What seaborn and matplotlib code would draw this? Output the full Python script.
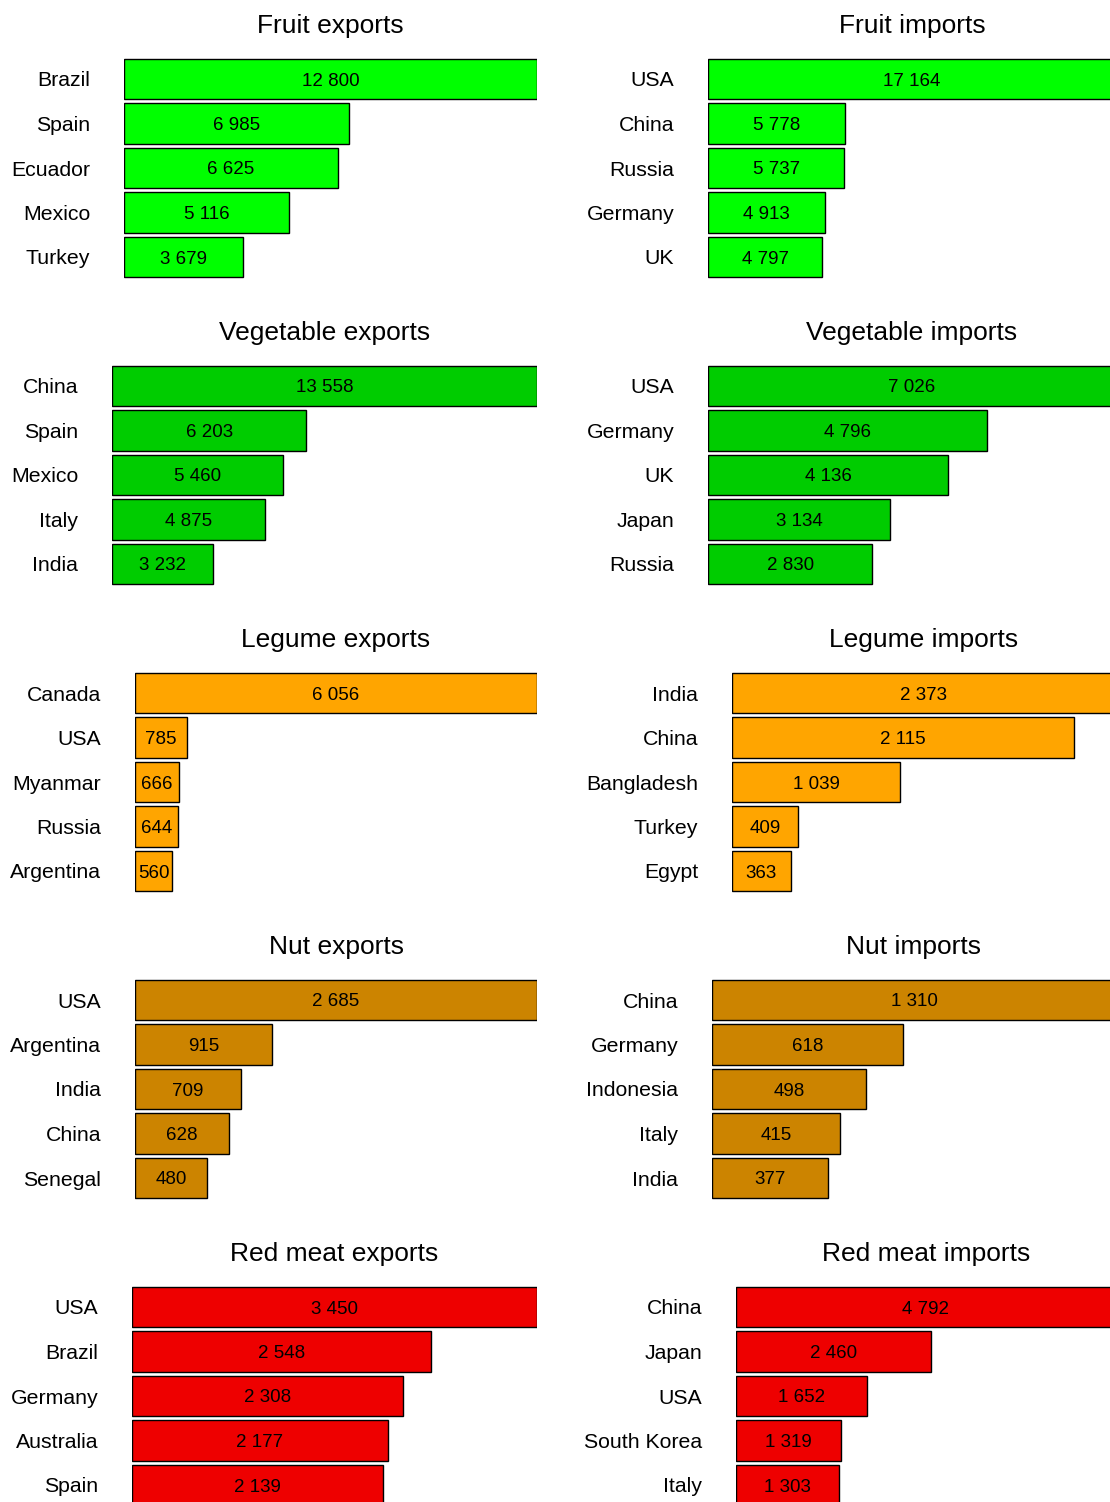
import matplotlib
matplotlib.use("Agg")
import matplotlib.pyplot as plt
import seaborn as sns
import pandas as pd

sns.set_style("white")
plt.rcParams['font.family'] = ['Liberation Sans', 'DejaVu Sans']
plt.rcParams['text.color'] = 'black'
plt.rcParams['axes.titlecolor'] = 'black'

fruit_exp_countries = ["Brazil", "Spain", "Ecuador", "Mexico", "Turkey"]
fruit_exp_values = [12800, 6985, 6625, 5116, 3679]
fruit_imp_countries = ["USA", "China", "Russia", "Germany", "UK"]
fruit_imp_values = [17164, 5778, 5737, 4913, 4797]

veg_exp_countries = ["China", "Spain", "Mexico", "Italy", "India"]
veg_exp_values = [13558, 6203, 5460, 4875, 3232]
veg_imp_countries = ["USA", "Germany", "UK", "Japan", "Russia"]
veg_imp_values = [7026, 4796, 4136, 3134, 2830]

leg_exp_countries = ["Canada", "USA", "Myanmar", "Russia", "Argentina"]
leg_exp_values = [6056, 785, 666, 644, 560]
leg_imp_countries = ["India", "China", "Bangladesh", "Turkey", "Egypt"]
leg_imp_values = [2373, 2115, 1039, 409, 363]

nut_exp_countries = ["USA", "Argentina", "India", "China", "Senegal"]
nut_exp_values = [2685, 915, 709, 628, 480]
nut_imp_countries = ["China", "Germany", "Indonesia", "Italy", "India"]
nut_imp_values = [1310, 618, 498, 415, 377]

meat_exp_countries = ["USA", "Brazil", "Germany", "Australia", "Spain"]
meat_exp_values = [3450, 2548, 2308, 2177, 2139]
meat_imp_countries = ["China", "Japan", "USA", "South Korea", "Italy"]
meat_imp_values = [4792, 2460, 1652, 1319, 1303]

titles = [
    ("Fruit exports", "Fruit imports"),
    ("Vegetable exports", "Vegetable imports"),
    ("Legume exports", "Legume imports"),
    ("Nut exports", "Nut imports"),
    ("Red meat exports", "Red meat imports"),
]
data = [
    ((fruit_exp_countries, fruit_exp_values), (fruit_imp_countries, fruit_imp_values)),
    ((veg_exp_countries, veg_exp_values), (veg_imp_countries, veg_imp_values)),
    ((leg_exp_countries, leg_exp_values), (leg_imp_countries, leg_imp_values)),
    ((nut_exp_countries, nut_exp_values), (nut_imp_countries, nut_imp_values)),
    ((meat_exp_countries, meat_exp_values), (meat_imp_countries, meat_imp_values)),
]
colors = ["#00FF00", "#00CC00", "#FFA500", "#CC8400", "#EE0000"]

# axes left edges in pixels (left column, right column)
lefts = [(124, 708), (112, 708), (135, 732), (135, 712), (132, 736)]
rights = (537, 1116)

W, H = 1110, 1502
fig = plt.figure(figsize=(W / 100, H / 100), dpi=100)

ax_h = 222.5
for r in range(5):
    top = 56.75 + 307 * r
    for c in range(2):
        L = lefts[r][c]
        R = rights[c]
        ax = fig.add_axes([L / W, (H - top - ax_h) / H, (R - L) / W, ax_h / H])
        countries, values = data[r][c]
        df = pd.DataFrame({"country": countries, "value": values})
        sns.barplot(data=df, x="value", y="country", ax=ax, color=colors[r],
                    saturation=1, edgecolor="black", linewidth=1, width=0.9,
                    orient="h")
        ax.set_xlim(0, max(values))
        ax.set_ylim(4.5, -0.5)
        ax.set_xlabel("")
        ax.set_ylabel("")
        ax.set_xticks([])
        for s in ax.spines.values():
            s.set_visible(False)
        ax.tick_params(axis="y", length=0, pad=24.3, labelsize=15.3, colors="black")
        ax.set_title(titles[r][c], fontsize=19, pad=17, color="black")
        for i, v in enumerate(values):
            ax.text(v / 2, i, f"{v:,}".replace(",", " "), ha="center",
                    va="center_baseline", fontsize=13.5, color="black")

fig.savefig("out.png", dpi=100)
